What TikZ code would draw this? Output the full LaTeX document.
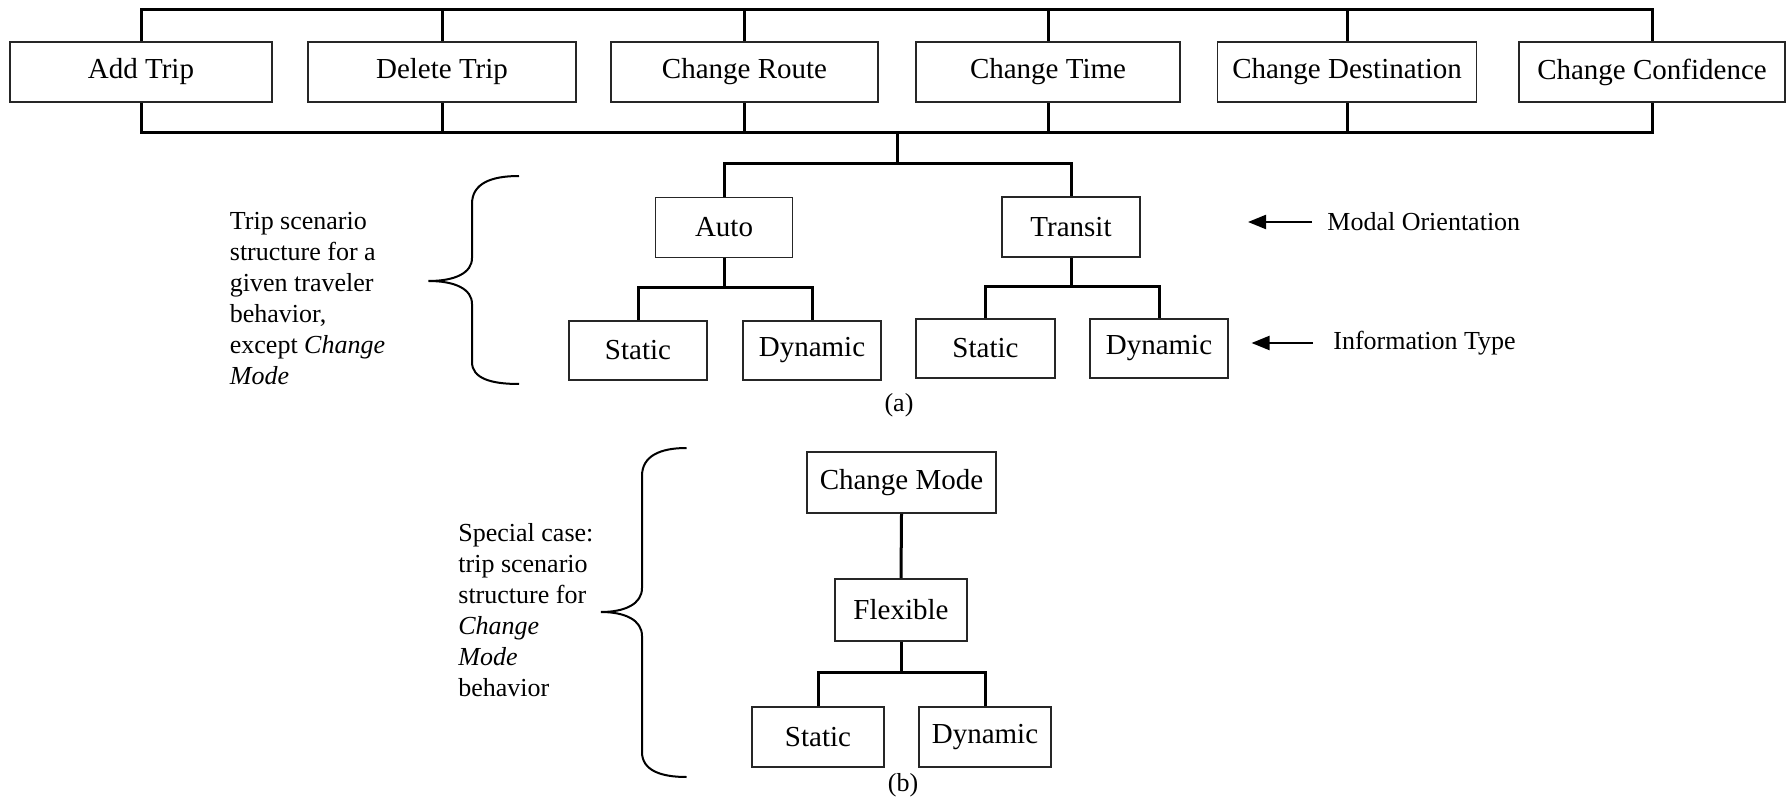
\documentclass[tikz,border=0pt]{standalone}
\usepackage{fontspec}
\setmainfont{Liberation Serif}
\usetikzlibrary{arrows.meta}
\begin{document}
\begin{tikzpicture}[x=0.5pt,y=-0.5pt,
  box/.style={draw=black!85, line width=0.9pt, minimum height=30pt, inner sep=0pt,
    font=\fontsize{14.5}{16}\selectfont},
  conn/.style={line width=1.5pt},
  lbl/.style={font=\fontsize{13}{15.5}\selectfont, inner sep=0pt, align=left},
  bracestyle/.style={line width=1pt},
  pointer/.style={line width=1.1pt, -{Triangle[length=9pt,width=7pt]}}]
\useasboundingbox (0,0) rectangle (1787,807);
% top row
\node[box, minimum width=131pt] (addtrip) at (141,72) {Add Trip};
\node[box, minimum width=134pt] (deltrip) at (442,72) {Delete Trip};
\node[box, minimum width=133.5pt] (route) at (744.5,72) {Change Route};
\node[box, minimum width=132pt] (time) at (1048,72) {Change Time};
\node[box, minimum width=129.5pt] (dest) at (1347,72) {Change Destination};
\node[box, minimum width=133pt] (conf) at (1652,72) {Change Confidence};
\coordinate (topbar) at (0,10);
\coordinate (botbar) at (0,133);
\draw[conn] (addtrip.north) |- (conf.north |- topbar) -- (conf.north);
\draw[conn] (addtrip.south) |- (conf.south |- botbar) -- (conf.south);
\foreach \n in {deltrip,route,time,dest}{
  \draw[conn] (\n.north) -- (\n.north |- topbar);
  \draw[conn] (\n.south) -- (\n.south |- botbar);
}
% part (a)
\node[box, minimum width=68.5pt] (auto) at (724,227.5) {Auto};
\node[box, minimum width=69pt] (transit) at (1071,227) {Transit};
\node[box, minimum width=68.75pt, minimum height=29.5pt] (sa) at (638,350.5) {Static};
\node[box, minimum width=68.75pt, minimum height=29.5pt] (da) at (812,350.5) {Dynamic};
\node[box, minimum width=69.5pt, minimum height=29.5pt] (st) at (985.5,348.5) {Static};
\node[box, minimum width=68.75pt, minimum height=29.5pt] (dt) at (1159,348.5) {Dynamic};
\coordinate (hub) at (897,133);
\coordinate (split) at (897,164);
\coordinate (ja) at (724,288);
\coordinate (jt) at (1071,287);
\draw[conn] (hub) -- (split);
\draw[conn] (auto.north) |- (split) -| (transit.north);
\draw[conn] (auto.south) -- (ja);
\draw[conn] (sa.north) |- (ja) -| (da.north);
\draw[conn] (transit.south) -- (jt);
\draw[conn] (st.north) |- (jt) -| (dt.north);
\node[lbl, anchor=west] (modal) at (1327,222) {Modal Orientation};
\node[lbl, anchor=west] (info) at (1333,343) {Information Type};
\coordinate (tipM) at (1248,222);
\coordinate (tipI) at (1251.5,343);
\draw[pointer] ([xshift=-7.5pt]modal.west) -- (tipM);
\draw[pointer] ([xshift=-10pt]info.west) -- (tipI);
\node[lbl] (capa) at (899,405) {(a)};
\node[lbl, anchor=west] (tripscen) at (229.5,299) {Trip scenario\\structure for a\\given traveler\\behavior,\\except \textit{Change}\\\textit{Mode}};
\draw[bracestyle] (519,176) .. controls (490,176) and (472,184) .. (472,204)
  -- (472,258) .. controls (472,273) and (455,281) .. (428.5,281)
  .. controls (455,281) and (472,289) .. (472,304)
  -- (472,362) .. controls (472,378) and (490,384) .. (519,384);
% part (b)
\node[box, minimum width=94.5pt, minimum height=30.5pt] (cm) at (901.5,482.5) {Change Mode};
\node[box, minimum width=66pt, minimum height=31pt] (flex) at (901,610) {Flexible};
\node[box, minimum width=65.75pt] (sb) at (818,737) {Static};
\node[box, minimum width=66pt] (db) at (985,737) {Dynamic};
\coordinate (jb) at (901,672);
\draw[conn] (cm.south) -- (flex.north);
\draw[conn] (flex.south) -- (jb);
\draw[conn] (sb.north) |- (jb) -| (db.north);
\node[lbl] (capb) at (903,785) {(b)};
\node[lbl, anchor=west] (special) at (458,610) {Special case:\\trip scenario\\structure for\\\textit{Change}\\\textit{Mode}\\behavior};
\draw[bracestyle] (686.5,448) .. controls (660,448) and (642,456) .. (642,476)
  -- (642,588) .. controls (642,604) and (625,612) .. (600.8,612)
  .. controls (625,612) and (642,620) .. (642,636)
  -- (642,752) .. controls (642,770) and (660,777) .. (686.5,777);
\end{tikzpicture}
\end{document}
